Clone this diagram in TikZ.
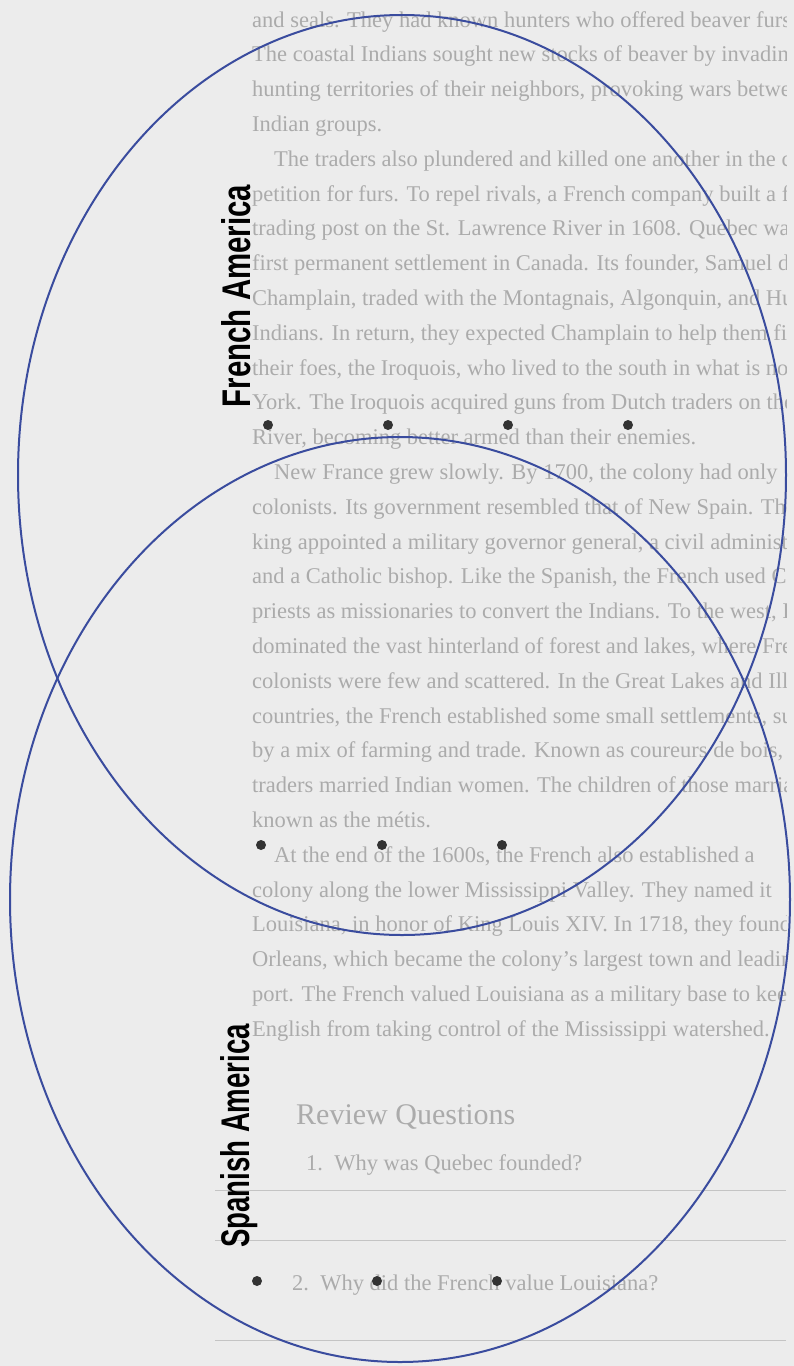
\documentclass[tikz,border=0pt]{standalone}
\usepackage{fontspec}
\usepackage{graphicx}
\usetikzlibrary{shapes.geometric}
\setmainfont{Liberation Serif}
\newfontfamily\lblfont{Liberation Sans}
\definecolor{paper}{HTML}{ECECEC}
\definecolor{inkgray}{HTML}{ABABAB}
\definecolor{vennblue}{HTML}{3A4C9E}
\definecolor{dotgray}{HTML}{333333}
\tikzset{
  setline/.style={draw=vennblue, line width=2pt},
  bullet/.style={circle, fill=dotgray, inner sep=0pt, minimum size=10pt},
  setlabel/.style={rotate=90, anchor=base, inner sep=0pt, font=\lblfont\bfseries\fontsize{40}{40}\selectfont},
  bodyline/.style={anchor=base west, inner sep=0pt, text=inkgray, font=\fontsize{22.5}{26}\selectfont},
  rule/.style={draw=inkgray!70, line width=0.8pt}
}
\begin{document}
\begin{tikzpicture}[x=1pt,y=-1pt]
\path[fill=paper] (0,0) rectangle (794,1366);
\useasboundingbox (0,0) rectangle (794,1366);
\begin{scope}
\clip (0,0) rectangle (786,1366);
% background page text
\foreach \t [count=\i from 0] in {
 {and seals. They had known hunters who offered beaver furs.},
 {The coastal Indians sought new stocks of beaver by invading the},
 {hunting territories of their neighbors, provoking wars between},
 {Indian groups.},
 {\hspace*{22pt}The traders also plundered and killed one another in the com-},
 {petition for furs. To repel rivals, a French company built a fortified},
 {trading post on the St. Lawrence River in 1608. Quebec was the},
 {first permanent settlement in Canada. Its founder, Samuel de},
 {Champlain, traded with the Montagnais, Algonquin, and Huron},
 {Indians. In return, they expected Champlain to help them fight},
 {their foes, the Iroquois, who lived to the south in what is now New},
 {York. The Iroquois acquired guns from Dutch traders on the Hudson},
 {River, becoming better armed than their enemies.},
 {\hspace*{22pt}New France grew slowly. By 1700, the colony had only},
 {colonists. Its government resembled that of New Spain. The},
 {king appointed a military governor general, a civil administrator,},
 {and a Catholic bishop. Like the Spanish, the French used Catholic},
 {priests as missionaries to convert the Indians. To the west, Indians},
 {dominated the vast hinterland of forest and lakes, where French},
 {colonists were few and scattered. In the Great Lakes and Illinois},
 {countries, the French established some small settlements, sustained},
 {by a mix of farming and trade. Known as coureurs de bois, many},
 {traders married Indian women. The children of those marriages were},
 {known as the m\'etis.},
 {\hspace*{22pt}At the end of the 1600s, the French also established a},
 {colony along the lower Mississippi Valley. They named it},
 {Louisiana, in honor of King Louis XIV. In 1718, they founded New},
 {Orleans, which became the colony's largest town and leading},
 {port. The French valued Louisiana as a military base to keep the},
 {English from taking control of the Mississippi watershed.}
}{
 \node[bodyline] (l\i) at (252,{27+34.8*\i}) {\t};
}
\node[bodyline, font=\fontsize{30}{32}\selectfont] (rq) at (296,1124) {Review Questions};
\node[bodyline] (q1) at (306,1170) {1.\ \ Why was Quebec founded?};
\coordinate (r1a) at (215,1190); \coordinate (r1b) at (786,1190);
\coordinate (r2a) at (215,1240); \coordinate (r2b) at (786,1240);
\coordinate (r3a) at (215,1340); \coordinate (r3b) at (786,1340);
\draw[rule] (r1a) -- (r1b);
\draw[rule] (r2a) -- (r2b);
\node[bodyline] (q2) at (292,1290) {2.\ \ Why did the French value Louisiana?};
\draw[rule] (r3a) -- (r3b);
\end{scope}
% Venn diagram
\node[setline, ellipse, minimum width=768pt, minimum height=920pt, inner sep=0pt, fill=none] (french) at (402,475) {};
\node[setline, ellipse, minimum width=780pt, minimum height=925pt, inner sep=0pt, fill=none] (spanish) at (400,899.5) {};
\node[setlabel] (fl) at (250,296) {\scalebox{0.735}[1]{French America}};
\node[setlabel] (sl) at (249,1136) {\scalebox{0.69}[1]{Spanish America}};
\foreach \x [count=\k] in {268,388,508,628} \node[bullet] (fa\k) at (\x,425) {};
\foreach \x [count=\k] in {261,382,502} \node[bullet] (bo\k) at (\x,845) {};
\foreach \x [count=\k] in {257,377,497} \node[bullet] (sa\k) at (\x,1281) {};
\end{tikzpicture}
\end{document}
